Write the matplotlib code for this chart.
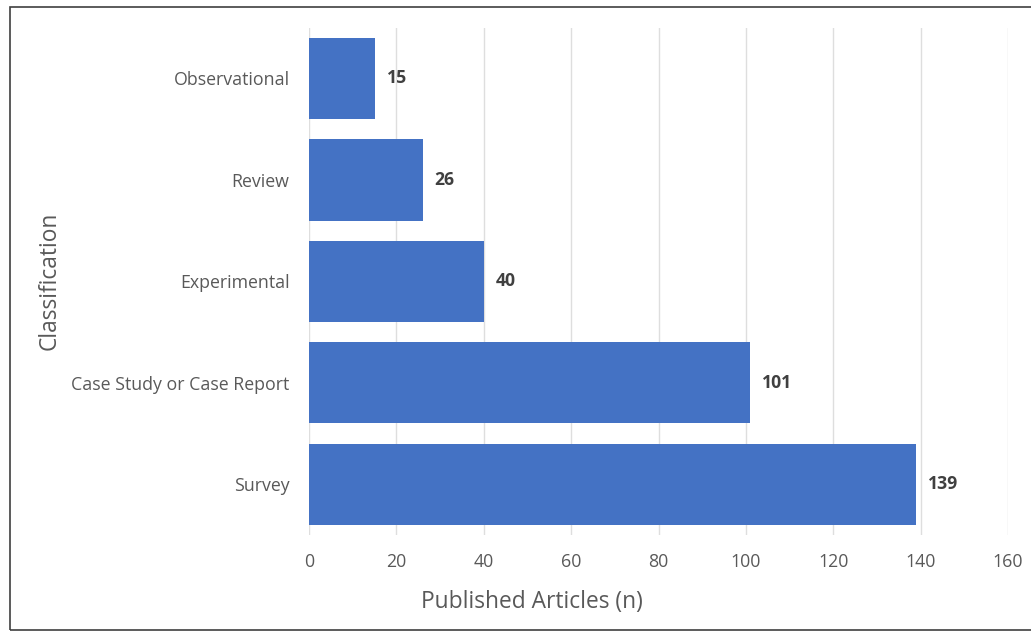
import matplotlib
matplotlib.use("Agg")
import matplotlib.pyplot as plt
from matplotlib.patches import Rectangle

categories = ["Survey", "Case Study or Case Report", "Experimental", "Review", "Observational"]
articles = [139, 101, 40, 26, 15]
x_ticks = [0, 20, 40, 60, 80, 100, 120, 140, 160]

BAR_COLOR = "#4472C4"
TEXT_GRAY = "#595959"
LABEL_DARK = "#404040"

plt.rcParams['font.family'] = ['Open Sans', 'DejaVu Sans']

W, H = 1031, 632
fig = plt.figure(figsize=(W / 100, H / 100), dpi=100)
ax = fig.add_axes([309 / W, 1 - 535 / H, (1008 - 309) / W, (535 - 27.75) / H])

ypos = list(range(len(categories)))
ax.barh(ypos, articles, height=0.8, color=BAR_COLOR, zorder=3)

for y, v in zip(ypos, articles):
    ax.annotate(str(v), xy=(v, y), xytext=(12, 0), textcoords="offset pixels",
                ha="left", va="center", fontsize=12.7, fontweight="bold",
                color=LABEL_DARK)

ax.set_xlim(0, 160)
ax.set_ylim(-0.5, len(categories) - 0.5)
ax.set_xticks(x_ticks)
ax.set_yticks(ypos)
ax.set_yticklabels(categories)
ax.tick_params(axis="x", length=0, pad=13, labelsize=12.8, labelcolor=TEXT_GRAY)
ax.tick_params(axis="y", length=0, pad=14, labelsize=12.8, labelcolor=TEXT_GRAY)
ax.grid(axis="x", color="#DEDEDE", linewidth=1, zorder=0)
for s in ax.spines.values():
    s.set_visible(False)

fig.text(50 / W, 1 - 281 / H, "Classification", rotation=90, ha="center", va="center",
         fontsize=16.4, color=TEXT_GRAY)
fig.text(532 / W, 1 - 602 / H, "Published Articles (n)", ha="center", va="center",
         fontsize=16.4, color=TEXT_GRAY)

fig.patches.append(Rectangle((10 / W, 1 - 630 / H), 1.05, (630 - 7) / H,
                             transform=fig.transFigure, fill=False,
                             edgecolor="#404040", linewidth=1.2))

fig.savefig("out.png", dpi=100)
